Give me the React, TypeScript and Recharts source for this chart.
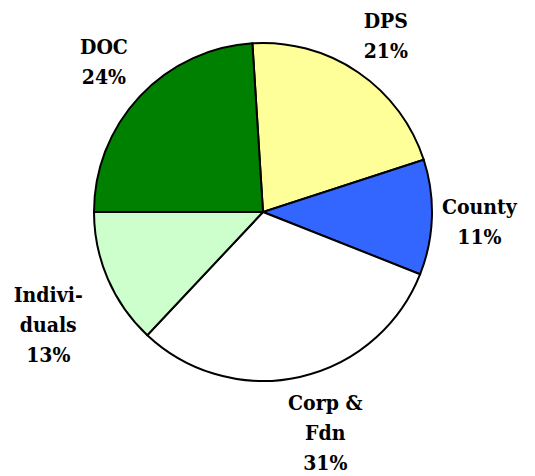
import { PieChart, Pie, Cell } from "recharts";

// slices in clockwise order starting just left of 12 o'clock
const sources = ["DPS", "County", "Corp & Fdn", "Individuals", "DOC"];
const shares = [21, 11, 31, 13, 24];
const labelLines = [["DPS"], ["County"], ["Corp &", "Fdn"], ["Indivi-", "duals"], ["DOC"]];
const colors = ["#FFFF99", "#3366FF", "#FFFFFF", "#CCFFCC", "#008000"];

// label placement: distance from centre and angle nudge (deg)
const labelRadius = [209, 217, 236, 246, 214];
const labelNudge = [-1.8, -2.6, 2.7, 5.8, 1.2];

const data = sources.map((name, i) => ({ name, value: shares[i] }));

const RAD = Math.PI / 180;
const START = 93.6;

function renderLabel(props: any) {
  const { cx, cy, midAngle, index, percent } = props;
  const a = (midAngle + labelNudge[index]) * RAD;
  const r = labelRadius[index];
  const x = cx + r * Math.cos(a);
  const y = cy - r * Math.sin(a);
  const lines = [...labelLines[index], `${Math.round(percent * 100)}%`];
  const step = 30;
  const first = y - ((lines.length - 1) * step) / 2;
  return (
    <text
      x={x}
      y={first}
      textAnchor="middle"
      fill="#000"
      style={{ fontFamily: "DejaVu Serif", fontStretch: "condensed", fontWeight: 700, fontSize: 21 }}
    >
      {lines.map((l, i) => (
        <tspan key={i} x={x} y={first + i * step}>
          {l}
        </tspan>
      ))}
    </text>
  );
}

export default function App() {
  return (
    <div style={{ position: "absolute", left: 0, top: 0, width: 535, height: 476, background: "#fff" }}>
      <PieChart width={535} height={476} margin={{ top: 0, right: 0, bottom: 0, left: 0 }}>
        <Pie
          data={data}
          dataKey="value"
          nameKey="name"
          cx={263}
          cy={212}
          outerRadius={169}
          startAngle={START}
          endAngle={START - 360}
          stroke="#000"
          strokeWidth={2}
          label={renderLabel}
          labelLine={false}
          isAnimationActive={false}
        >
          {data.map((d, i) => (
            <Cell key={d.name} fill={colors[i]} />
          ))}
        </Pie>
      </PieChart>
    </div>
  );
}
